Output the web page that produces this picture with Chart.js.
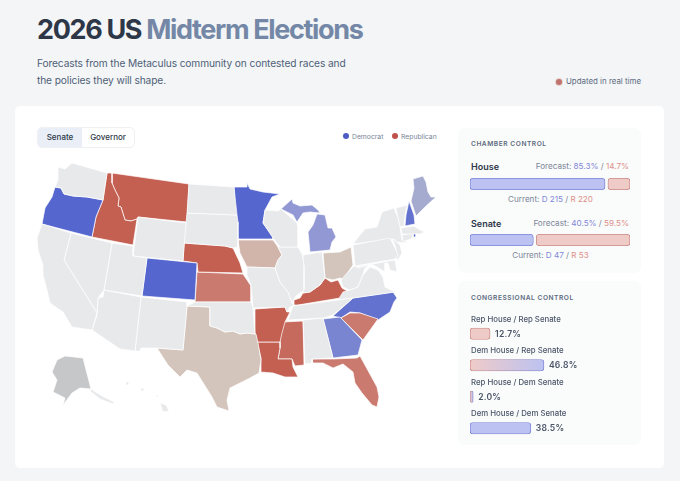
<!DOCTYPE html>
<html>
<head>
<meta charset="utf-8">
<title>2026 US Midterm Elections</title>
<script src="https://cdn.jsdelivr.net/npm/chart.js@4"></script>
<style>
  html, body { margin: 0; padding: 0; }
  body { width: 680px; height: 481px; overflow: hidden; background: #f3f5f7; position: relative; font-family: Inter, sans-serif; color: #2d3748; }
  .abs { position: absolute; white-space: nowrap; line-height: 1; }
  h1 { margin: 0; font-size: 27px; font-weight: 700; letter-spacing: -1.35px; left: 37px; top: 16px; line-height: 28px; }
  h1 span { color: #7487a6; }
  .sub { left: 37px; top: 54.5px; font-size: 10.2px; letter-spacing: -0.12px; line-height: 17.5px; color: #4f5f76; }
  .live { left: 566px; top: 78px; font-size: 7.9px; color: #5d6b80; }
  .live-dot { left: 556px; top: 79px; width: 6px; height: 6px; border-radius: 50%; background: #c0736c; box-shadow: 0 0 0 1px #e6d5d5; }
  .card { position: absolute; left: 15px; top: 106px; width: 649px; height: 362px; background: #fff; border-radius: 5px; }
  .toggle { position: absolute; left: 37px; top: 127px; width: 98px; height: 21px; border: 1px solid #eef0f4; border-radius: 5px; box-sizing: border-box; overflow: hidden; font-size: 8px; font-weight: 500; }
  .toggle div { position: absolute; top: 0; height: 19px; line-height: 19px; text-align: center; }
  .legend-dot { width: 6px; height: 6px; border-radius: 50%; top: 133px; }
  .legend-text { top: 133.5px; font-size: 6.8px; color: #7a8698; }
  .panel { position: absolute; left: 458px; width: 183px; background: #fafbfb; border-radius: 6px; }
  .head { left: 471px; font-size: 6.6px; font-weight: 600; letter-spacing: 0.55px; color: #5d6b80; }
  .chamber { left: 471px; font-size: 9px; font-weight: 600; color: #2d3748; }
  .fc { right: 51px; font-size: 8.15px; color: #7a8698; }
  .cur { left: 471px; width: 159px; text-align: center; font-size: 8.1px; color: #7a8698; }
  .d { color: #7f88d8; } .r { color: #dd9089; }
  .lab { left: 471px; font-size: 7.8px; font-weight: 500; color: #4a5568; }
  .val { font-size: 8.6px; font-weight: 600; color: #4a5568; letter-spacing: 0.2px; }
  canvas { position: absolute; }
</style>
</head>
<body>
<h1 class="abs">2026 US <span>Midterm Elections</span></h1>
<div class="abs sub">Forecasts from the Metaculus community on contested races and<br>the policies they will shape.</div>
<div class="abs live-dot"></div>
<div class="abs live">Updated in real time</div>
<div class="card"></div>

<div class="toggle">
  <div style="left:0;width:44px;background:#e9eef7">Senate</div>
  <div style="left:44px;width:52px">Governor</div>
</div>
<div class="abs legend-dot" style="left:343px;background:#4f5bc4"></div>
<div class="abs legend-text" style="left:352px">Democrat</div>
<div class="abs legend-dot" style="left:392px;background:#c0504a"></div>
<div class="abs legend-text" style="left:401px">Republican</div>

<canvas id="mapChart" style="left:30px;top:150px"></canvas>

<div class="panel" style="top:128px;height:145px"></div>
<div class="abs head" style="top:141px">CHAMBER CONTROL</div>
<div class="abs chamber" style="top:162px">House</div>
<div class="abs fc" id="houseFc" style="top:162px"></div>
<canvas id="houseBar" style="left:470px;top:176px"></canvas>
<div class="abs cur" id="houseCur" style="top:195px"></div>
<div class="abs chamber" style="top:219px">Senate</div>
<div class="abs fc" id="senateFc" style="top:219px"></div>
<canvas id="senateBar" style="left:470px;top:232px"></canvas>
<div class="abs cur" id="senateCur" style="top:251px"></div>

<div class="panel" style="top:281px;height:164px"></div>
<div class="abs head" style="top:295px">CONGRESSIONAL CONTROL</div>
<canvas id="controlChart" style="left:470px;top:318px"></canvas>
<div id="controlText"></div>

<script>
// forecast numbers
const houseForecast = [85.3, 14.7];
const senateForecast = [40.5, 59.5];
const houseCurrent = [215, 220];
const senateCurrent = [47, 53];
const controlLabels = ["Rep House / Rep Senate", "Dem House / Rep Senate", "Rep House / Dem Senate", "Dem House / Dem Senate"];
const controlValues = [12.7, 46.8, 2.0, 38.5];

// state outlines in map units, x,y pairs
const neutralStates = {
  WA: [28,17,35,19,42,13,77,23,73,50,57,47,43,46,34,44,31,38,25,37,28,30],
  CA: [12,74,41,83,34,110,67,163,62,180,42,177,33,162,20,153,17,140,13,125,13,115,8,100,7,88],
  NV: [41,83,82,93,74,140,68,148,67,163,34,110],
  UT: [82,93,103,96,103,106,117,108,112,146,74,140],
  WY: [108,67,156,73,153,111,103,106],
  AZ: [74,140,111,147,105,201,90,199,62,180,67,165,68,148,73,147],
  NM: [111,147,157,152,157,156,153,200,126,198,111,198,110,201,105,201],
  ND: [159,34,204,37,207,65,157,63],
  SD: [157,63,207,65,208,72,208,97,203,98,195,96,154,93],
  OK: [165,152,221,152,223,158,225,184,217,183,210,184,203,181,195,182,187,178,180,176,180,157,157,156],
  WI: [235,60,248,61,251,59,267,73,268,78,268,97,250,97,243,88,233,73],
  IL: [250,97,268,97,272,104,274,115,274,140,267,145,264,149,262,153,258,142,250,132,245,118,248,110,252,105,248,97],
  IN: [273,105,292,102,295,128,290,135,280,142,273,143,274,135],
  MO: [217,117,245,118,250,132,258,142,262,153,264,155,260,157,257,162,255,157,223,158,221,135,217,125],
  TN: [258,170,263,156,308,150,323,148,315,155,303,165,293,168],
  AL: [273,170,293,168,301,200,303,208,282,209,282,213,275,214],
  VA: [313,142,320,140,328,137,333,125,340,117,348,120,353,127,355,137,365,142,323,148,308,150],
  WV: [324,116,329,118,340,114,335,118,332,127,328,137,320,140,313,137,311,130,318,122],
  PA: [323,95,360,88,365,98,368,105,365,109,325,116],
  NY: [323,94,330,85,335,79,347,77,352,62,364,58,368,68,370,77,372,90,378,93,366,92,364,89],
  MD: [325,117,365,110,367,122,360,120,358,113,355,113,355,122,347,117,340,113,330,118],
  NJ: [362,88,370,95,372,103,368,110,365,107,366,98],
  VT: [366,58,377,55,375,65,374,76,370,77,368,68],
  MA: [371,78,384,76,390,80,395,82,390,84,372,84],
  CT: [372,85,383,83,383,88,373,92],
  HI: [130,253,136,255,139,261,133,262],
  HI2: [96,232,99,232,99,235,96,235],
  HI3: [111,238,114,238,114,241,111,241],
  HI4: [126,245,128,245,128,247,126,247],
  AKP: [61,239,72,246,84,252,83,254,70,249,60,241]
};
const ratedStates = {
  OR: [25,37,31,38,34,44,43,46,57,47,73,50,68,62,66,67,62,87,12,74,15,58,22,47],
  ID: [77,23,82,23,82,33,85,40,89,48,88,56,91,57,95,70,101,71,107,69,103,95,62,87,66,67,68,62,73,50],
  MT: [82,23,159,34,157,72,108,67,107,69,101,71,95,70,91,57,88,56,89,48,85,40,82,33],
  CO: [117,108,167,113,165,150,112,146],
  NE: [154,93,195,96,203,98,210,113,213,123,168,122,167,113,153,111],
  KS: [167,122,213,124,217,130,221,136,221,152,165,152],
  TX: [157,156,180,157,180,176,187,178,195,182,203,181,210,184,217,183,226,184,228,193,231,210,229,223,220,228,200,238,197,250,199,261,187,257,182,247,167,223,157,220,150,227,138,215,127,198,153,200],
  MN: [204,37,217,37,217,33,220,39,233,42,250,44,242,47,235,60,233,73,243,87,243,89,208,89,205,68],
  IA: [208,90,243,90,248,97,252,105,248,110,245,118,217,117,210,103],
  MIU: [251,59,262,49,263,53,270,56,282,55,288,60,290,63,280,62,273,63,267,72,263,65],
  MIL: [287,64,295,65,298,78,302,78,306,87,302,92,300,100,280,102,278,82,283,75],
  OH: [293,103,310,102,321,97,323,115,318,122,315,130,310,128,303,130,295,128],
  KY: [264,150,270,148,273,143,280,142,290,135,295,128,301,132,308,130,312,138,317,141,310,148,268,155,264,155],
  AR: [225,159,255,157,257,162,260,162,255,172,252,183,250,192,227,192,225,183],
  LA: [227,192,250,192,250,198,248,209,262,209,263,217,268,227,255,227,243,223,230,222,231,208],
  MS: [253,172,273,171,274,215,265,216,262,209,248,209,250,198,250,187],
  GA: [293,169,310,167,332,190,328,205,303,208,301,200],
  FL: [282,209,303,209,327,208,330,206,347,237,349,247,347,257,342,255,332,243,325,233,323,222,313,214,303,218,293,213,283,213],
  SC: [311,168,320,163,330,163,348,169,333,190],
  NC: [303,166,323,148,363,142,367,148,364,152,360,162,348,170,330,163,320,162,311,168],
  ME: [383,29,393,26,396,32,398,42,401,47,406,47,396,56,386,66,381,51,384,38],
  NH: [379,51,384,65,385,74,375,76,376,65],
  RI: [383,82,386,82,386,87,383,87],
  AK: [27,210,35,206,53,208,61,239,50,238,42,243,33,255,35,248,23,242,27,230,22,222]
};
const stateRatings = {
  OR: "safeD", CO: "safeD", MN: "safeD", RI: "safeD", NH: "likelyD", NC: "likelyD",
  GA: "leanD", MIU: "lean2D", MIL: "lean2D", ME: "tiltD",
  OH: "tossup", TX: "tossup", IA: "tiltR",
  SC: "leanR", FL: "leanR", KS: "leanR",
  MS: "likelyR", ID: "safeR", MT: "safeR", NE: "safeR", KY: "safeR", AR: "safeR", LA: "safeR",
  AK: "alaska"
};
const ratingColors = {
  safeD: "#5566cf", likelyD: "#6472cf", leanD: "#7985d0", lean2D: "#9198d3", tiltD: "#a5aacf",
  tossup: "#d3c5bc", tiltR: "#d1b4aa", leanR: "#ca7a6f", likelyR: "#c76a5e", safeR: "#c46052",
  alaska: "#c6c7c9"
};
const neutralColor = "#e8e9eb";
const mapWidth = 410;
const mapHeight = 270;

function toPoints(flat) {
  const pts = [];
  for (let i = 0; i < flat.length; i += 2) pts.push({ x: flat[i], y: flat[i + 1] });
  pts.push({ x: flat[0], y: flat[1] }); // close it
  return pts;
}

function stateDataset(flat, color) {
  return {
    data: toPoints(flat),
    showLine: true,
    fill: "shape",
    backgroundColor: color,
    borderColor: "#ffffff",
    borderWidth: 0.7,
    pointRadius: 0,
    tension: 0
  };
}

const mapDatasets = [];
Object.values(neutralStates).forEach((s) => mapDatasets.push(stateDataset(s, neutralColor)));
Object.entries(ratedStates).forEach(([k, s]) => mapDatasets.push(stateDataset(s, ratingColors[stateRatings[k]])));

const mapCanvas = document.getElementById("mapChart");
mapCanvas.width = mapWidth;
mapCanvas.height = mapHeight;
new Chart(mapCanvas, {
  type: "scatter",
  data: { datasets: mapDatasets },
  options: {
    responsive: false,
    animation: false,
    layout: { padding: 0 },
    plugins: { legend: { display: false }, tooltip: { enabled: false } },
    scales: {
      x: { type: "linear", min: 0, max: mapWidth, display: false },
      y: { type: "linear", min: 0, max: mapHeight, reverse: true, display: false }
    }
  }
});

// the two split bars
const blueFill = "#bcc2f1", blueLine = "#7c85d6", redFill = "#efcbc8", redLine = "#cc8a85";

function splitBar(id, values) {
  const canvas = document.getElementById(id);
  canvas.width = 160;
  canvas.height = 16;
  const gap = 0.9;
  new Chart(canvas, {
    type: "bar",
    data: {
      labels: [id],
      datasets: [
        { data: [[0, values[0] - gap]], backgroundColor: blueFill, borderColor: blueLine, borderWidth: 0.9, borderRadius: 3, borderSkipped: false, grouped: false, barThickness: 11.5 },
        { data: [[values[0] + gap, 100]], backgroundColor: redFill, borderColor: redLine, borderWidth: 0.9, borderRadius: 3, borderSkipped: false, grouped: false, barThickness: 11.5 }
      ]
    },
    options: {
      indexAxis: "y",
      responsive: false,
      animation: false,
      plugins: { legend: { display: false }, tooltip: { enabled: false } },
      scales: {
        x: { min: 0, max: 100, display: false },
        y: { display: false }
      }
    }
  });
}
splitBar("houseBar", houseForecast);
splitBar("senateBar", senateForecast);

function fcHtml(v) {
  return `Forecast: <span class="d">${v[0].toFixed(1)}%</span> / <span class="r">${v[1].toFixed(1)}%</span>`;
}
function curHtml(v) {
  return `Current: <span class="d">D ${v[0]}</span> / <span class="r">R ${v[1]}</span>`;
}
document.getElementById("houseFc").innerHTML = fcHtml(houseForecast);
document.getElementById("senateFc").innerHTML = fcHtml(senateForecast);
document.getElementById("houseCur").innerHTML = curHtml(houseCurrent);
document.getElementById("senateCur").innerHTML = curHtml(senateCurrent);

// congressional control, one chart with four rows
const controlCanvas = document.getElementById("controlChart");
controlCanvas.width = 158;
controlCanvas.height = 126;

function mixGradient(ctx, from, to) {
  const x = ctx.chart.scales.x;
  const g = ctx.chart.ctx.createLinearGradient(x.getPixelForValue(0), 0, x.getPixelForValue(controlValues[ctx.dataIndex]), 0);
  g.addColorStop(0, from);
  g.addColorStop(1, to);
  return g;
}

const controlChart = new Chart(controlCanvas, {
  type: "bar",
  data: {
    labels: controlLabels,
    datasets: [{
      data: controlValues,
      backgroundColor: (ctx) => {
        if (ctx.dataIndex === 0) return redFill;
        if (ctx.dataIndex === 3) return blueFill;
        return mixGradient(ctx, redFill, blueFill);
      },
      borderColor: (ctx) => {
        if (ctx.dataIndex === 0) return redLine;
        if (ctx.dataIndex === 3) return blueLine;
        return mixGradient(ctx, redLine, blueLine);
      },
      borderWidth: 0.9,
      borderRadius: 3,
      borderSkipped: false,
      barThickness: 11.5
    }]
  },
  options: {
    indexAxis: "y",
    responsive: false,
    animation: false,
    layout: { padding: 0 },
    plugins: { legend: { display: false }, tooltip: { enabled: false } },
    scales: {
      x: { min: 0, max: 100, display: false },
      y: { display: false }
    }
  }
});

const controlText = document.getElementById("controlText");
controlLabels.forEach((label, i) => {
  const barY = controlChart.scales.y.getPixelForValue(i) + 318;
  const barEnd = controlChart.scales.x.getPixelForValue(controlValues[i]) + 470;
  const lab = document.createElement("div");
  lab.className = "abs lab";
  lab.style.top = barY - 18 + "px";
  lab.textContent = label;
  controlText.appendChild(lab);
  const val = document.createElement("div");
  val.className = "abs val";
  val.style.top = barY - 4 + "px";
  val.style.left = barEnd + 5 + "px";
  val.textContent = controlValues[i].toFixed(1) + "%";
  controlText.appendChild(val);
});
</script>
</body>
</html>
